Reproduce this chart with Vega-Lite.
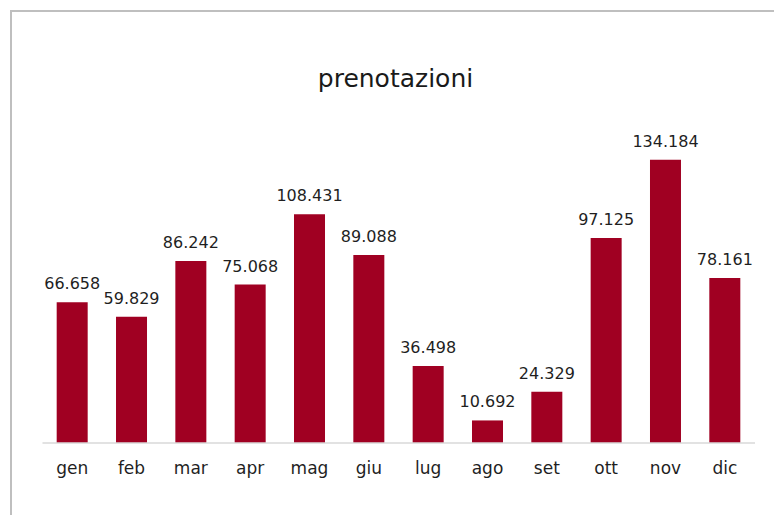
{
  "$schema": "https://vega.github.io/schema/vega-lite/v6.json",
  "autosize": "none",
  "padding": {"left": 11, "top": 11, "right": 0, "bottom": 0},
  "width": 775,
  "height": 520,
  "background": "white",
  "config": {
    "locale": {"number": {"decimal": ",", "thousands": ".", "grouping": [3], "currency": ["€", ""]}},
    "view": {"stroke": "#bfbfbf", "strokeWidth": 2},
    "font": "DejaVu Sans"
  },
  "title": {
    "text": "prenotazioni",
    "font": "DejaVu Sans",
    "fontSize": 25,
    "fontWeight": "normal",
    "color": "#1a1a1a",
    "anchor": "middle",
    "baseline": "alphabetic",
    "offset": -101,
    "dx": -3
  },
  "data": {
    "values": [
      {"mese": "gen", "prenotazioni": 66658},
      {"mese": "feb", "prenotazioni": 59829},
      {"mese": "mar", "prenotazioni": 86242},
      {"mese": "apr", "prenotazioni": 75068},
      {"mese": "mag", "prenotazioni": 108431},
      {"mese": "giu", "prenotazioni": 89088},
      {"mese": "lug", "prenotazioni": 36498},
      {"mese": "ago", "prenotazioni": 10692},
      {"mese": "set", "prenotazioni": 24329},
      {"mese": "ott", "prenotazioni": 97125},
      {"mese": "nov", "prenotazioni": 134184},
      {"mese": "dic", "prenotazioni": 78161}
    ]
  },
  "encoding": {
    "x": {
      "field": "mese",
      "type": "nominal",
      "sort": null,
      "scale": {"paddingInner": 0.4775, "paddingOuter": 0.77},
      "axis": {
        "title": null,
        "domain": false,
        "ticks": false,
        "labelAngle": 0,
        "labelFont": "DejaVu Sans",
        "labelFontSize": 17,
        "labelColor": "#1f1f1f",
        "labelBaseline": "alphabetic",
        "labelPadding": 30,
        "offset": -88,
        "grid": false
      }
    }
  },
  "layer": [
    {
      "mark": {"type": "bar", "color": "#a00022"},
      "encoding": {
        "y": {
          "field": "prenotazioni",
          "type": "quantitative",
          "scale": {"domain": [-41706, 204739], "nice": false, "zero": false},
          "axis": null
        },
        "y2": {"datum": 0}
      }
    },
    {
      "mark": {"type": "text", "font": "DejaVu Sans", "fontSize": 16, "color": "#1f1f1f", "baseline": "alphabetic", "dy": -13},
      "encoding": {
        "y": {"field": "prenotazioni", "type": "quantitative"},
        "text": {"field": "prenotazioni", "type": "quantitative", "format": ",d"}
      }
    },
    {
      "data": {"values": [{"a": "gen", "b": "dic", "v": 0}]},
      "mark": {"type": "rule", "color": "#d9d9d9", "strokeWidth": 1.5},
      "encoding": {
        "x": {"field": "a", "type": "nominal", "bandPosition": -0.458},
        "x2": {"field": "b", "bandPosition": 1.474},
        "y": {"field": "v", "type": "quantitative"}
      }
    }
  ]
}
